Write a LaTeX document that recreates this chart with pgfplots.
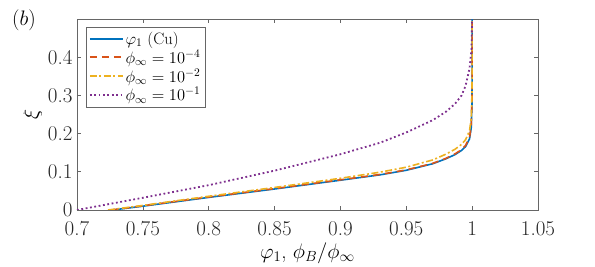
\RequirePackage{fix-cm}
\documentclass[border=0pt]{standalone}
\usepackage{pgfplots}
\pgfplotsset{compat=1.18}
\definecolor{mblue}{rgb}{0,0.447,0.741}
\definecolor{mred}{rgb}{0.85,0.325,0.098}
\definecolor{myellow}{rgb}{0.929,0.694,0.125}
\definecolor{mpurple}{rgb}{0.494,0.184,0.556}
\begin{document}
\begin{tikzpicture}
\useasboundingbox (-77pt,-57pt) rectangle (518pt,210pt);
\begin{axis}[
  at={(0pt,0pt)}, anchor=south west,
  scale only axis,
  width=461pt, height=191pt,
  xmin=0.7, xmax=1.05, ymin=0, ymax=0.5,
  xtick={0.7,0.75,0.8,0.85,0.9,0.95,1,1.05},
  xticklabels={0.7,0.75,0.8,0.85,0.9,0.95,1,1.05},
  ytick={0,0.1,0.2,0.3,0.4},
  yticklabels={0,0.1,0.2,0.3,0.4},
  tick align=inside,
  major tick length=4pt,
  axis line style={black!60, line width=0.6pt},
  tick style={black!60, line width=0.6pt},
  tick label style={font=\fontsize{21}{24}\selectfont, text=black!85},
  xticklabel style={yshift=-8pt},
  yticklabel style={xshift=-1pt},
  label style={font=\fontsize{21}{24}\selectfont},
  xlabel={$\varphi_1$, $\phi_B/\phi_\infty$},
  ylabel={$\xi$},
  xlabel style={yshift=0pt},
  ylabel style={yshift=-1pt},
  legend style={at={(0.02,0.958)}, anchor=north west, draw=black!60, line width=0.6pt,
    font=\fontsize{16.5}{20}\selectfont, inner sep=2.5pt, row sep=0pt,
    cells={anchor=west}},
  legend image code/.code={\draw[#1, line width=1.6pt] (0pt,0pt) -- (33pt,0pt);},
]
\addplot[mblue, line width=1.6pt] coordinates {
(0.727,0) (0.75,0.010) (0.8,0.033) (0.85,0.055) (0.9,0.078) (0.93,0.092) (0.95,0.104) (0.97,0.121) (0.98,0.134) (0.987,0.145) (0.992,0.156) (0.995,0.166) (0.998,0.186) (0.9993,0.215) (0.9999,0.28) (1.0,0.4) (1.0,0.5)};
\addlegendentry{$\varphi_1$ (Cu)}
\addplot[mred, line width=1.6pt, dash pattern=on 7pt off 5pt] coordinates {
(0.726,0) (0.75,0.011) (0.8,0.034) (0.85,0.056) (0.9,0.079) (0.93,0.093) (0.95,0.105) (0.97,0.122) (0.98,0.135) (0.987,0.147) (0.992,0.158) (0.995,0.169) (0.998,0.19) (0.9993,0.22) (0.9999,0.29) (1.0,0.4) (1.0,0.5)};
\addlegendentry{$\phi_\infty=10^{-4}$}
\addplot[myellow, line width=1.6pt, dash pattern=on 7pt off 2.5pt on 2pt off 2.5pt] coordinates {
(0.7235,0) (0.75,0.012) (0.8,0.036) (0.85,0.059) (0.9,0.083) (0.93,0.099) (0.95,0.112) (0.97,0.131) (0.98,0.146) (0.987,0.159) (0.992,0.172) (0.995,0.184) (0.998,0.207) (0.9993,0.24) (0.9999,0.31) (1.0,0.4) (1.0,0.5)};
\addlegendentry{$\phi_\infty=10^{-2}$}
\addplot[mpurple, line width=1.8pt, dash pattern=on 1.8pt off 2.6pt] coordinates {
(0.7,0) (0.75,0.032) (0.8,0.065) (0.85,0.103) (0.9,0.146) (0.93,0.176) (0.95,0.203) (0.97,0.235) (0.98,0.257) (0.987,0.278) (0.992,0.3) (0.995,0.325) (0.998,0.37) (0.9995,0.42) (1.0,0.5)};
\addlegendentry{$\phi_\infty=10^{-1}$}
\end{axis}
\node[font=\fontsize{21}{24}\selectfont] at (-53pt,190pt) {$(b)$};
\end{tikzpicture}
\end{document}
